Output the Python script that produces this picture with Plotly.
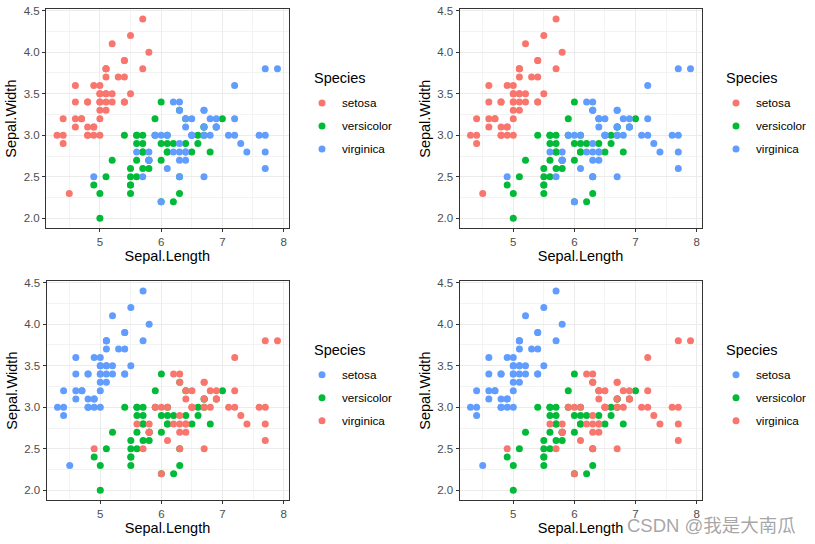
import plotly.graph_objects as go

species_names = ["setosa", "versicolor", "virginica"]

setosa_len = [5.1,4.9,4.7,4.6,5.0,5.4,4.6,5.0,4.4,4.9,5.4,4.8,4.8,4.3,5.8,5.7,5.4,5.1,5.7,5.1,
              5.4,5.1,4.6,5.1,4.8,5.0,5.0,5.2,5.2,4.7,4.8,5.4,5.2,5.5,4.9,5.0,5.5,4.9,4.4,5.1,
              5.0,4.5,4.4,5.0,5.1,4.8,5.1,4.6,5.3,5.0]
setosa_wid = [3.5,3.0,3.2,3.1,3.6,3.9,3.4,3.4,2.9,3.1,3.7,3.4,3.0,3.0,4.0,4.4,3.9,3.5,3.8,3.8,
              3.4,3.7,3.6,3.3,3.4,3.0,3.4,3.5,3.4,3.2,3.1,3.4,4.1,4.2,3.1,3.2,3.5,3.6,3.0,3.4,
              3.5,2.3,3.2,3.5,3.8,3.0,3.8,3.2,3.7,3.3]
versicolor_len = [7.0,6.4,6.9,5.5,6.5,5.7,6.3,4.9,6.6,5.2,5.0,5.9,6.0,6.1,5.6,6.7,5.6,5.8,6.2,5.6,
                  5.9,6.1,6.3,6.1,6.4,6.6,6.8,6.7,6.0,5.7,5.5,5.5,5.8,6.0,5.4,6.0,6.7,6.3,5.6,5.5,
                  5.5,6.1,5.8,5.0,5.6,5.7,5.7,6.2,5.1,5.7]
versicolor_wid = [3.2,3.2,3.1,2.3,2.8,2.8,3.3,2.4,2.9,2.7,2.0,3.0,2.2,2.9,2.9,3.1,3.0,2.7,2.2,2.5,
                  3.2,2.8,2.5,2.8,2.9,3.0,2.8,3.0,2.9,2.6,2.4,2.4,2.7,2.7,3.0,3.4,3.1,2.3,3.0,2.5,
                  2.6,3.0,2.6,2.3,2.7,3.0,2.9,2.9,2.5,2.8]
virginica_len = [6.3,5.8,7.1,6.3,6.5,7.6,4.9,7.3,6.7,7.2,6.5,6.4,6.8,5.7,5.8,6.4,6.5,7.7,7.7,6.0,
                 6.9,5.6,7.7,6.3,6.7,7.2,6.2,6.1,6.4,7.2,7.4,7.9,6.4,6.3,6.1,7.7,6.3,6.4,6.0,6.9,
                 6.7,6.9,5.8,6.8,6.7,6.7,6.3,6.5,6.2,5.9]
virginica_wid = [3.3,2.7,3.0,2.9,3.0,3.0,2.5,2.9,2.5,3.6,3.2,2.7,3.0,2.5,2.8,3.2,3.0,3.8,2.6,2.2,
                 3.2,2.8,2.8,2.7,3.3,3.2,2.8,3.0,2.8,3.0,2.8,3.8,2.8,2.8,2.6,3.0,3.4,3.1,3.0,3.1,
                 3.1,3.1,2.7,3.2,3.3,3.0,2.5,3.0,3.4,3.0]

data_len = [setosa_len, versicolor_len, virginica_len]
data_wid = [setosa_wid, versicolor_wid, virginica_wid]

RED, GREEN, BLUE = "#F8766D", "#00BA38", "#619CFF"
palettes = [[RED, GREEN, BLUE], [RED, GREEN, BLUE], [BLUE, GREEN, RED], [BLUE, GREEN, RED]]

x_ticks = [5, 6, 7, 8]
y_ticks = [2.0, 2.5, 3.0, 3.5, 4.0, 4.5]

W, H = 815, 544
# panel pixel boxes: (left, right, top, bottom)
panels = [(46, 288.5, 5, 226), (459.5, 701.5, 5, 226), (46.5, 288.5, 279, 500), (459.5, 701.5, 279, 500)]
# legend title position (left x, center y) and legend box top
legend_title = [(312, 75), (724, 75), (312, 349), (724, 349)]
legend_box = [(302, 85), (716, 85), (302, 359), (716, 359)]

FONT = "Liberation Sans, Arial, sans-serif"
fig = go.Figure()
layout = dict(width=W, height=H, margin=dict(l=0, r=0, t=0, b=0),
              paper_bgcolor="white", plot_bgcolor="white", font=dict(family=FONT, color="black"))
annotations = []

for p, (l, r, t, b) in enumerate(panels):
    sfx = "" if p == 0 else str(p + 1)
    leg = "legend" if p == 0 else "legend" + str(p + 1)
    for s, name in enumerate(species_names):
        fig.add_trace(go.Scatter(
            x=data_len[s], y=data_wid[s], mode="markers", name=name,
            marker=dict(color=palettes[p][s], size=7, line=dict(width=0)),
            xaxis="x" + sfx, yaxis="y" + sfx, legend=leg, legendgroup="%d_%d" % (p, s),
            showlegend=True, hoverinfo="x+y+name"))
    axcommon = dict(showline=True, mirror=True, linecolor="#333333", linewidth=1,
                    showgrid=True, gridcolor="#EBEBEB", gridwidth=1.1,
                    ticks="outside", ticklen=3, tickcolor="#333333", tickwidth=1,
                    tickfont=dict(size=11.5, color="#4D4D4D", family=FONT),
                    zeroline=False)
    layout["xaxis" + sfx] = dict(axcommon, domain=[l / W, r / W], range=[4.12, 8.08],
                                 tickvals=x_ticks, ticktext=[str(v) for v in x_ticks],
                                 minor=dict(showgrid=True, gridcolor="#F3F3F3", gridwidth=0.6,
                                            tickvals=[4.5, 5.5, 6.5, 7.5], ticks=""),
                                 title=dict(text="Sepal.Length", font=dict(size=14.5, family=FONT), standoff=3),
                                 anchor="y" + sfx)
    layout["yaxis" + sfx] = dict(axcommon, domain=[1 - b / H, 1 - t / H], range=[1.88, 4.52],
                                 tickvals=y_ticks, ticktext=["%.1f" % v for v in y_ticks],
                                 minor=dict(showgrid=True, gridcolor="#F3F3F3", gridwidth=0.6,
                                            tickvals=[2.25, 2.75, 3.25, 3.75, 4.25], ticks=""),
                                 title=dict(text="Sepal.Width", font=dict(size=14.5, family=FONT), standoff=3),
                                 anchor="x" + sfx)
    lx, ly = legend_box[p]
    layout[leg] = dict(x=lx / W, y=1 - ly / H, xanchor="left", yanchor="top",
                       font=dict(size=11.7, family=FONT), bgcolor="rgba(0,0,0,0)",
                       itemsizing="trace", tracegroupgap=4)
    tx, ty = legend_title[p]
    annotations.append(dict(text="Species", x=tx / W, y=1 - ty / H, xref="paper", yref="paper",
                            xanchor="left", yanchor="middle", showarrow=False,
                            font=dict(size=14.5, family=FONT, color="black")))

annotations.append(dict(text="CSDN @我是大南瓜", x=798 / W, y=1 - 525 / H, xref="paper", yref="paper",
                        xanchor="right", yanchor="middle", showarrow=False,
                        font=dict(size=18.5, color="rgba(150,150,150,0.85)", family="Liberation Sans, Noto Sans CJK SC")))
layout["annotations"] = annotations
fig.update_layout(**layout)
fig.write_html("out.html")
